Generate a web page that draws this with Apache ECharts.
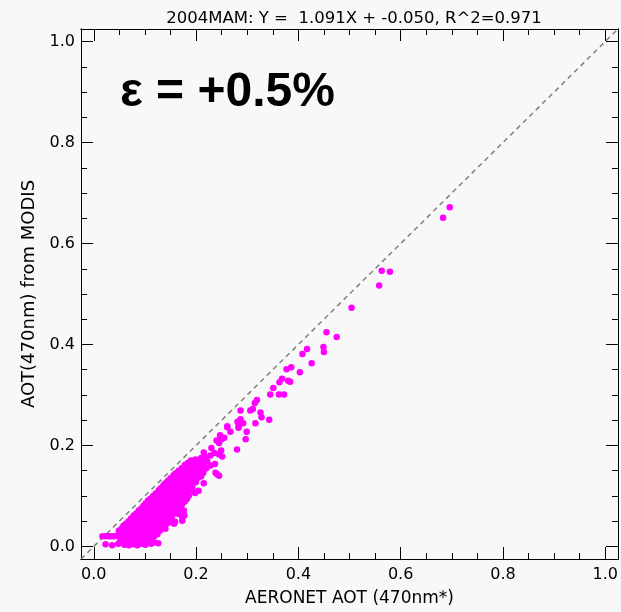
<!DOCTYPE html>
<html>
<head>
<meta charset="utf-8">
<script src="https://cdn.jsdelivr.net/npm/echarts@6/dist/echarts.min.js"></script>
<style>
  html, body { margin: 0; padding: 0; background: #f8f8f8; }
  #chart { width: 621px; height: 612px; }
</style>
</head>
<body>
<div id="chart"></div>
<script>
// Seasonal comparison of MODIS and AERONET aerosol optical thickness (470 nm)
const titleText = '2004MAM: Y =  1.091X + -0.050, R^2=0.971';
const biasText = '\u03b5 = +0.5%';
const xName = 'AERONET AOT (470nm*)';
const yName = 'AOT(470nm) from MODIS';

// padded plot range and tick positions
const frameMin = -0.025, frameMax = 1.025;
const majorTicks = [0, 0.2, 0.4, 0.6, 0.8, 1.0];
const minorTicks = [0.05, 0.1, 0.15, 0.25, 0.3, 0.35, 0.45, 0.5, 0.55,
                    0.65, 0.7, 0.75, 0.85, 0.9, 0.95];

// 1:1 reference line, drawn corner to corner of the frame
const oneToOne = [[frameMin, frameMin], [frameMax, frameMax]];

// matched pairs [AERONET, MODIS]: low-AOT floor retrievals
const floorPairs = [
  [0.017,0.020],[0.023,0.020],[0.029,0.020],[0.034,0.020],[0.040,0.020],[0.046,0.021],
  [0.023,0.004],[0.036,0.002],[0.048,0.005],[0.060,0.003],[0.069,0.002],[0.078,0.004],
  [0.085,0.002],[0.094,0.005],[0.101,0.003],[0.112,0.005],[0.118,0.008],[0.126,0.006]
];

// dense cluster of clean-air matchups
const clusterPairs = [
  [0.052,0.012],[0.061,0.010],[0.070,0.013],[0.079,0.011],[0.088,0.013],[0.097,0.010],[0.105,0.012],
  [0.057,0.016],[0.066,0.015],[0.075,0.017],[0.084,0.016],[0.093,0.014],[0.102,0.016],[0.111,0.015],
  [0.055,0.022],[0.064,0.019],[0.073,0.021],[0.082,0.018],[0.091,0.022],[0.100,0.020],[0.109,0.019],[0.117,0.021],
  [0.052,0.025],[0.061,0.026],[0.070,0.024],[0.079,0.026],[0.088,0.025],[0.097,0.024],[0.106,0.026],[0.115,0.025],[0.124,0.024],
  [0.049,0.031],[0.058,0.029],[0.066,0.032],[0.075,0.028],[0.084,0.031],[0.093,0.030],[0.102,0.029],[0.111,0.032],[0.120,0.028],[0.129,0.031],
  [0.054,0.035],[0.063,0.036],[0.071,0.034],[0.080,0.036],[0.089,0.035],[0.098,0.034],[0.107,0.036],[0.116,0.035],[0.125,0.034],[0.134,0.036],
  [0.058,0.041],[0.067,0.039],[0.076,0.042],[0.085,0.038],[0.094,0.041],[0.103,0.040],[0.112,0.039],[0.121,0.042],[0.130,0.038],[0.137,0.041],
  [0.063,0.045],[0.072,0.046],[0.081,0.044],[0.090,0.046],[0.099,0.045],[0.108,0.044],[0.117,0.046],[0.126,0.045],[0.135,0.044],[0.143,0.046],
  [0.068,0.050],[0.077,0.052],[0.086,0.049],[0.095,0.051],[0.104,0.048],[0.113,0.052],[0.122,0.050],[0.131,0.049],[0.140,0.051],[0.147,0.048],
  [0.073,0.055],[0.082,0.056],[0.091,0.054],[0.100,0.056],[0.109,0.055],[0.118,0.054],[0.127,0.056],[0.136,0.055],[0.145,0.054],[0.152,0.056],
  [0.078,0.061],[0.087,0.059],[0.096,0.062],[0.105,0.058],[0.114,0.061],[0.123,0.060],[0.132,0.059],[0.141,0.062],[0.150,0.058],
  [0.083,0.065],[0.092,0.066],[0.101,0.064],[0.110,0.066],[0.119,0.065],[0.128,0.064],[0.137,0.066],[0.146,0.065],[0.155,0.064],
  [0.088,0.071],[0.097,0.069],[0.106,0.072],[0.115,0.068],[0.124,0.071],[0.133,0.070],[0.142,0.069],[0.151,0.072],[0.159,0.068],
  [0.093,0.075],[0.102,0.076],[0.111,0.074],[0.120,0.076],[0.129,0.075],[0.138,0.074],[0.147,0.076],[0.156,0.075],[0.164,0.074],
  [0.097,0.080],[0.106,0.082],[0.115,0.079],[0.124,0.081],[0.133,0.078],[0.142,0.082],[0.151,0.080],[0.160,0.079],[0.169,0.081],
  [0.101,0.085],[0.110,0.086],[0.119,0.084],[0.128,0.086],[0.137,0.085],[0.146,0.084],[0.155,0.086],[0.164,0.085],[0.173,0.084],
  [0.106,0.091],[0.115,0.089],[0.124,0.092],[0.133,0.088],[0.142,0.091],[0.151,0.090],[0.160,0.089],[0.169,0.092],[0.178,0.089],
  [0.111,0.095],[0.120,0.096],[0.129,0.094],[0.138,0.096],[0.147,0.095],[0.156,0.094],[0.165,0.096],[0.174,0.095],[0.182,0.094],
  [0.116,0.100],[0.125,0.102],[0.134,0.099],[0.143,0.101],[0.152,0.098],[0.161,0.102],[0.170,0.100],[0.179,0.099],[0.186,0.101],
  [0.121,0.105],[0.130,0.106],[0.139,0.104],[0.148,0.106],[0.157,0.105],[0.166,0.104],[0.175,0.106],[0.184,0.105],
  [0.127,0.111],[0.136,0.109],[0.145,0.112],[0.154,0.108],[0.163,0.111],[0.172,0.110],[0.181,0.109],[0.190,0.112],
  [0.131,0.115],[0.140,0.116],[0.149,0.114],[0.158,0.116],[0.167,0.115],[0.176,0.114],[0.185,0.116],[0.193,0.115],
  [0.136,0.121],[0.145,0.119],[0.154,0.122],[0.163,0.118],[0.172,0.121],[0.181,0.120],[0.190,0.118],
  [0.140,0.125],[0.149,0.126],[0.158,0.124],[0.167,0.126],[0.176,0.125],[0.185,0.124],[0.194,0.126],
  [0.145,0.130],[0.154,0.132],[0.163,0.129],[0.172,0.131],[0.181,0.128],[0.190,0.131],[0.199,0.129],
  [0.150,0.135],[0.159,0.136],[0.168,0.134],[0.177,0.136],[0.186,0.135],[0.195,0.134],[0.204,0.136],
  [0.156,0.141],[0.165,0.139],[0.174,0.142],[0.183,0.138],[0.192,0.141],[0.201,0.140],[0.210,0.139],
  [0.160,0.145],[0.169,0.146],[0.178,0.144],[0.187,0.146],[0.196,0.145],[0.205,0.144],[0.214,0.146],
  [0.166,0.150],[0.175,0.152],[0.184,0.149],[0.193,0.151],[0.202,0.148],[0.211,0.152],
  [0.172,0.155],[0.181,0.156],[0.190,0.154],[0.199,0.156],[0.208,0.155],[0.216,0.154],
  [0.178,0.161],[0.187,0.159],[0.196,0.162],[0.205,0.158],[0.214,0.161],
  [0.184,0.165],[0.193,0.166],[0.202,0.164],[0.211,0.166],
  [0.190,0.170],[0.199,0.172],[0.207,0.168]
];

// scattered matchups around and above the cluster
const spreadPairs = [
  [0.170,0.074],[0.166,0.064],[0.176,0.071],[0.177,0.061],[0.159,0.049],[0.157,0.045],
  [0.142,0.045],[0.173,0.051],[0.173,0.058],[0.140,0.035],[0.124,0.025],[0.118,0.020],
  [0.199,0.127],[0.215,0.125],[0.189,0.121],[0.198,0.106],[0.205,0.110],
  [0.205,0.165],[0.212,0.150],[0.220,0.155],[0.210,0.175],[0.222,0.168],[0.228,0.160],
  [0.215,0.186],[0.218,0.177],[0.237,0.163],[0.238,0.146],[0.245,0.140],[0.241,0.143],
  [0.230,0.195],[0.236,0.185],[0.245,0.182],[0.228,0.180],[0.251,0.178],[0.249,0.190],
  [0.245,0.205],[0.250,0.212],[0.240,0.210],[0.255,0.215],[0.247,0.220],
  [0.261,0.236],[0.267,0.227],[0.283,0.235],[0.299,0.227],[0.297,0.212],[0.280,0.192],
  [0.287,0.269],[0.319,0.290],[0.315,0.284],[0.311,0.272],[0.306,0.269],[0.326,0.265],
  [0.328,0.256],[0.343,0.251],[0.287,0.252],[0.281,0.247],[0.292,0.244],[0.316,0.244],
  [0.261,0.238],[0.283,0.238],
  [0.345,0.301],[0.362,0.301],[0.372,0.301],[0.351,0.314],[0.363,0.325],[0.368,0.332],
  [0.380,0.328],[0.384,0.326],[0.377,0.351],[0.386,0.355],[0.403,0.345],[0.408,0.381],
  [0.417,0.391],[0.426,0.363],[0.449,0.395],[0.450,0.385],[0.455,0.424],[0.475,0.415],
  [0.504,0.473],[0.558,0.517],[0.563,0.546],[0.579,0.544],[0.683,0.651],[0.696,0.672]
];

const matchups = floorPairs.concat(clusterPairs, spreadPairs);

const font = 'DejaVu Sans';
const tickFmt = v => v.toFixed(1);
const black = '#000';

// one value axis; major and minor tick rows are separate overlapping axes
function frameAxis(position, ticks, len, extra) {
  return Object.assign({
    type: 'value',
    position: position,
    min: frameMin,
    max: frameMax,
    axisLine: { show: true, onZero: false, lineStyle: { color: black, width: 1 } },
    axisTick: { show: true, inside: true, length: len, customValues: ticks,
                lineStyle: { color: black, width: 1 } },
    splitLine: { show: false },
    axisLabel: { show: false }
  }, extra || {});
}

const mainLabel = margin => ({
  show: true, color: black, fontFamily: font, fontSize: 16,
  margin: margin, customValues: majorTicks, formatter: tickFmt
});
const nameStyle = { fontFamily: font, fontSize: 17, color: black };

const chart = echarts.init(document.getElementById('chart'), null, { renderer: 'canvas' });
chart.setOption({
  backgroundColor: '#f8f8f8',
  animation: false,
  title: {
    text: titleText,
    left: 349,
    top: 5,
    textAlign: 'center',
    textStyle: { fontFamily: font, fontSize: 16.5, fontWeight: 'normal', color: black }
  },
  graphic: [{
    type: 'text',
    x: 120,
    y: 93,
    style: {
      text: biasText,
      fill: black,
      font: 'bold 48px "Liberation Sans", Arial, sans-serif',
      verticalAlign: 'middle'
    }
  }],
  grid: { left: 81, right: 3, top: 29, bottom: 50 },
  xAxis: [
    frameAxis('bottom', majorTicks, 12, {
      axisLabel: mainLabel(8),
      name: xName, nameLocation: 'middle', nameGap: 31, nameTextStyle: nameStyle
    }),
    frameAxis('bottom', minorTicks, 6),
    frameAxis('top', majorTicks, 12),
    frameAxis('top', minorTicks, 6)
  ],
  yAxis: [
    frameAxis('left', majorTicks, 12, {
      axisLabel: mainLabel(6),
      name: yName, nameLocation: 'middle', nameGap: 43,
      nameTextStyle: Object.assign({}, nameStyle, { fontSize: 18 })
    }),
    frameAxis('left', minorTicks, 6),
    frameAxis('right', majorTicks, 12),
    frameAxis('right', minorTicks, 6)
  ],
  series: [
    {
      type: 'line',
      data: oneToOne,
      symbol: 'none',
      silent: true,
      lineStyle: { color: '#808080', width: 1.5, type: [5, 4] },
      z: 1
    },
    {
      type: 'scatter',
      data: matchups,
      symbol: 'circle',
      symbolSize: 6.5,
      itemStyle: { color: '#ff00ff', opacity: 1 },
      z: 2
    }
  ]
});
</script>
</body>
</html>
